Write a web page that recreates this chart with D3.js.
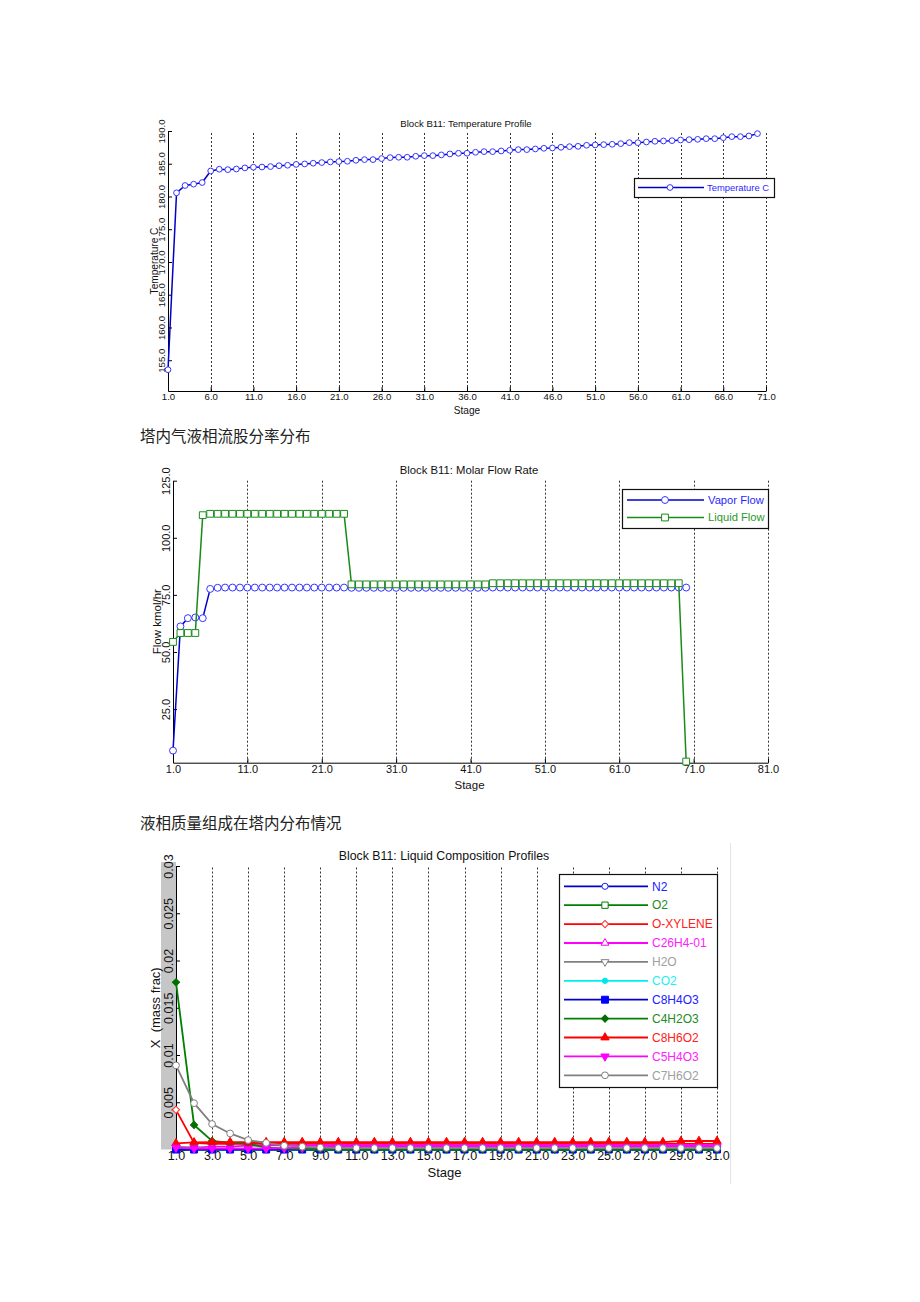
<!DOCTYPE html>
<html>
<head>
<meta charset="utf-8">
<script src="https://cdn.jsdelivr.net/npm/d3@7/dist/d3.min.js"></script>
<style>
body { margin: 0; background: #fff; }
svg text { font-family: "Liberation Sans", Arial, sans-serif; }
svg text.cap { font-family: "Noto Sans CJK SC", sans-serif; }
</style>
</head>
<body>
<div id="page"></div>
<script>
// ---- chart 1: temperature profile, stages 1..70
var temperatureC = [153.55, 180.56, 181.68, 181.88, 182.13, 183.9, 184.16, 184.1, 184.2, 184.37,
    184.47, 184.5, 184.57, 184.7, 184.77, 184.9, 184.97, 185.08, 185.18, 185.28,
    185.33, 185.38, 185.53, 185.63, 185.63, 185.79, 185.94, 185.99, 185.99, 186.14,
    186.24, 186.24, 186.35, 186.5, 186.6, 186.6, 186.75, 186.85, 186.85, 186.95,
    187.06, 187.16, 187.16, 187.26, 187.36, 187.41, 187.51, 187.61, 187.66, 187.82,
    187.87, 187.92, 187.97, 188.07, 188.22, 188.22, 188.32, 188.43, 188.48, 188.53,
    188.63, 188.68, 188.73, 188.83, 188.83, 188.98, 189.14, 189.14, 189.24, 189.6];
var tempXTicks = [1, 6, 11, 16, 21, 26, 31, 36, 41, 46, 51, 56, 61, 66, 71];
var tempYTicks = [155, 160, 165, 170, 175, 180, 185, 190];

// ---- chart 2: molar flow, stages 1..70
var vaporFlow = [6.8, 61.2, 64.8, 65.1, 64.8, 77.6, 78.1, 78.2, 78.2, 78.2,
    78.2, 78.2, 78.2, 78.2, 78.2, 78.2, 78.2, 78.2, 78.2, 78.2,
    78.2, 78.2, 78.2, 78.2, 78.1, 78.1, 78.1, 78.1, 78.1, 78.1,
    78.1, 78.1, 78.1, 78.1, 78.1, 78.1, 78.1, 78.1, 78.1, 78.1,
    78.1, 78.1, 78.1, 78.2, 78.2, 78.2, 78.2, 78.2, 78.2, 78.2,
    78.2, 78.2, 78.2, 78.2, 78.2, 78.2, 78.2, 78.2, 78.2, 78.2,
    78.2, 78.2, 78.2, 78.2, 78.2, 78.2, 78.2, 78.2, 78.2, 78.2];
var liquidFlow = [54.4, 58.3, 58.3, 58.3, 109.9, 110.5, 110.5, 110.5, 110.5, 110.5,
    110.5, 110.5, 110.5, 110.5, 110.5, 110.5, 110.5, 110.5, 110.5, 110.5,
    110.5, 110.5, 110.5, 110.5, 79.6, 79.6, 79.6, 79.6, 79.6, 79.6,
    79.6, 79.6, 79.6, 79.6, 79.6, 79.6, 79.6, 79.6, 79.6, 79.6,
    79.6, 79.6, 79.6, 80.1, 80.1, 80.1, 80.1, 80.1, 80.1, 80.1,
    80.1, 80.1, 80.1, 80.1, 80.1, 80.1, 80.1, 80.1, 80.1, 80.1,
    80.1, 80.1, 80.1, 80.1, 80.1, 80.1, 80.1, 80.1, 80.1, 2.0];
var flowXTicks = [1, 11, 21, 31, 41, 51, 61, 71, 81];
var flowYTicks = [25, 50, 75, 100, 125];

// ---- chart 3: liquid composition (mass frac), stages 1..31
var compNames = ["N2", "O2", "O-XYLENE", "C26H4-01", "H2O", "CO2", "C8H4O3", "C4H2O3", "C8H6O2", "C5H4O3", "C7H6O2"];
var xN2 = [0, 0, 0, 0, 0, 0, 0, 0, 0, 0, 0, 0, 0, 0, 0, 0, 0, 0, 0, 0, 0, 0, 0, 0, 0, 0, 0, 0, 0, 0, 0];
var xO2 = [0, 0, 0, 0, 0, 0, 0, 0, 0, 0, 0, 0, 0, 0, 0, 0, 0, 0, 0, 0, 0, 0, 0, 0, 0, 0, 0, 0, 0, 0, 0];
var xOXylene = [0.0042, 0.0007, 0.0006, 0.0006, 0.0006, 0.0006, 0.0006, 0.0006, 0.0006, 0.0006,
    0.0006, 0.0006, 0.0006, 0.0006, 0.0006, 0.0006, 0.0006, 0.0006, 0.0006, 0.0006,
    0.0006, 0.0006, 0.0006, 0.0006, 0.0006, 0.0006, 0.0006, 0.0006, 0.0006, 0.0006, 0.0006];
var xC26H401 = [0.0002, 0.0002, 0.0003, 0.0003, 0.0004, 0.00045, 0.00045, 0.00045, 0.00045, 0.00045,
    0.00045, 0.00045, 0.00045, 0.00045, 0.00045, 0.00045, 0.00045, 0.00045, 0.00045, 0.00045,
    0.00045, 0.00045, 0.00045, 0.00045, 0.00045, 0.00045, 0.00045, 0.00045, 0.00045, 0.00045, 0.00045];
var xH2O = [0.0003, 0.0002, 0.0001, 0.0001, 0.0001, 0.0001, 0.0001, 0.0001, 0.0001, 0.0001,
    0.0001, 0.0001, 0.0001, 0.0001, 0.0001, 0.0001, 0.0001, 0.0001, 0.0001, 0.0001,
    0.0001, 0.0001, 0.0001, 0.0001, 0.0001, 0.0001, 0.0001, 0.0001, 0.0001, 0.0001, 0.0001];
var xCO2 = [0.0001, 0, 0, 0, 0, 0, 0, 0, 0, 0, 0, 0, 0, 0, 0, 0, 0, 0, 0, 0, 0, 0, 0, 0, 0, 0, 0, 0, 0, 0, 0];
var xC8H4O3 = [0, 0, 0, 0, 0, 0, 0, 0, 0, 0, 0, 0, 0, 0, 0, 0, 0, 0, 0, 0, 0, 0, 0, 0, 0, 0, 0, 0, 0, 0, 0];
var xC4H2O3 = [0.0177, 0.0026, 0.0009, 0.0007, 0.0006, 0.0002, 0.0001, 0.00005, 0, 0,
    0, 0, 0, 0, 0, 0, 0, 0, 0, 0, 0, 0, 0, 0, 0, 0, 0, 0, 0, 0, 0];
var xC8H6O2 = [0.00065, 0.00075, 0.00078, 0.00078, 0.00078, 0.00078, 0.00078, 0.00078, 0.00078, 0.00078,
    0.00078, 0.00078, 0.00078, 0.00078, 0.00078, 0.00078, 0.00078, 0.00078, 0.00078, 0.00078,
    0.00078, 0.00078, 0.00078, 0.00078, 0.00078, 0.00078, 0.00078, 0.00078, 0.0009, 0.0009, 0.0009];
var xC5H4O3 = [0.0002, 0.0001, 0.0001, 0.0001, 0.0001, 0.0001, 0.00015, 0.0002, 0.00025, 0.0003,
    0.0003, 0.0003, 0.0003, 0.0003, 0.0003, 0.0003, 0.0003, 0.0003, 0.0003, 0.0003,
    0.0003, 0.0003, 0.0003, 0.0003, 0.0003, 0.0003, 0.0003, 0.0003, 0.0003, 0.0003, 0.0003];
var xC7H6O2 = [0.0089, 0.0049, 0.0027, 0.0017, 0.0010, 0.0007, 0.0004, 0.0003, 0.0002, 0.00015,
    0.00015, 0.00015, 0.00015, 0.00015, 0.00015, 0.00015, 0.00015, 0.00015, 0.00015, 0.00015,
    0.00015, 0.00015, 0.00015, 0.00015, 0.00015, 0.00015, 0.00015, 0.00015, 0.00015, 0.00015, 0.00015];
var compXTicks = [1, 3, 5, 7, 9, 11, 13, 15, 17, 19, 21, 23, 25, 27, 29, 31];
var compYTicks = [0.005, 0.01, 0.015, 0.02, 0.025, 0.03];
var compYLabels = ["0.005", "0.01", "0.015", "0.02", "0.025", "0.03"];

var svg = d3.select("#page").append("svg")
    .attr("width", 920).attr("height", 1302)
    .style("background", "#fff");

// diamond is a square turned 45 degrees, triDown a triangle turned over
var symbols = {
    circle: d3.symbolCircle, square: d3.symbolSquare, diamond: d3.symbolSquare,
    triUp: d3.symbolTriangle, triDown: d3.symbolTriangle
};
var turns = { diamond: "rotate(45)", triDown: "rotate(180)" };

function marker(sel, m, size) {
    sel.append("path")
        .attr("d", d3.symbol().type(symbols[m.shape]).size(size)())
        .attr("transform", turns[m.shape] || null)
        .attr("fill", m.filled ? m.mcolor : "#fff")
        .attr("stroke", m.mcolor)
        .attr("stroke-width", 1);
}

function drawChart(cfg) {
    var g = svg.append("g");
    var x = d3.scaleLinear().domain(cfg.xDomain).range(cfg.xRange);
    var y = d3.scaleLinear().domain(cfg.yDomain).range(cfg.yRange);

    if (cfg.ylabBand) {
        g.append("rect")
            .attr("x", cfg.xRange[0] - 15).attr("y", cfg.yRange[1] - 4)
            .attr("width", 15).attr("height", cfg.yRange[0] - cfg.yRange[1] + 4)
            .attr("fill", "#c6c6c6");
    }

    // dashed vertical grid
    g.selectAll("line.grid").data(cfg.xTicks.slice(1)).enter().append("line")
        .attr("class", "grid")
        .attr("x1", function(d) { return Math.round(x(d)) + 0.5; })
        .attr("x2", function(d) { return Math.round(x(d)) + 0.5; })
        .attr("y1", cfg.yRange[0]).attr("y2", cfg.yRange[1])
        .attr("stroke", "#000").attr("stroke-width", 0.8)
        .attr("stroke-dasharray", "2,2");

    var xa = g.append("g")
        .attr("transform", "translate(0," + cfg.yRange[0] + ")")
        .call(d3.axisBottom(x).tickValues(cfg.xTicks).tickFormat(d3.format(".1f"))
            .tickSize(-4).tickSizeOuter(0).tickPadding(2));
    xa.attr("font-size", cfg.tickFs).attr("font-family", null);
    xa.selectAll("text").attr("fill", "#111");

    var ya = g.append("g")
        .attr("transform", "translate(" + cfg.xRange[0] + ",0)")
        .call(d3.axisLeft(y).tickValues(cfg.yTicks)
            .tickFormat(function(d, i) { return cfg.yLabels ? cfg.yLabels[i] : d3.format(".1f")(d); })
            .tickSize(-4).tickSizeOuter(0));
    ya.attr("font-size", cfg.tickFs).attr("font-family", null);
    ya.selectAll("text")
        .attr("x", null).attr("dy", null)
        .attr("text-anchor", "middle")
        .attr("fill", "#111")
        .attr("transform", "translate(-3,0) rotate(-90)");

    // titles
    g.append("text")
        .attr("x", cfg.titleX).attr("y", cfg.titleY)
        .attr("text-anchor", "middle").attr("font-size", cfg.titleFs).attr("fill", "#111")
        .text(cfg.title);
    g.append("text")
        .attr("x", (cfg.xRange[0] + cfg.xRange[1]) / 2 + cfg.stageDx).attr("y", cfg.stageY)
        .attr("text-anchor", "middle").attr("font-size", cfg.tickFs + 0.5).attr("fill", "#111")
        .text("Stage");
    g.append("text")
        .attr("transform", "translate(" + cfg.ylabX + "," + (cfg.yRange[0] + cfg.yRange[1]) / 2 + ") rotate(-90)")
        .attr("text-anchor", "middle").attr("font-size", cfg.tickFs + 0.5).attr("fill", "#111")
        .attr("xml:space", "preserve")
        .text(cfg.ylabel);

    // series
    cfg.series.forEach(function(s) {
        var line = d3.line()
            .x(function(d, i) { return x(i + 1); })
            .y(function(d) { return y(d); });
        g.append("path")
            .datum(s.values)
            .attr("fill", "none")
            .attr("stroke", s.color)
            .attr("stroke-width", cfg.lw)
            .attr("d", line);
        var pts = g.selectAll(null).data(s.values).enter().append("g")
            .attr("transform", function(d, i) { return "translate(" + x(i + 1) + "," + y(d) + ")"; });
        marker(pts, s, s.size || cfg.msize);
    });

    // legend
    var L = cfg.legend;
    var lg = g.append("g");
    lg.append("rect")
        .attr("x", L.x + 0.5).attr("y", L.y + 0.5).attr("width", L.w).attr("height", L.h)
        .attr("fill", "#fff").attr("stroke", "#111").attr("stroke-width", 1.2);
    cfg.series.forEach(function(s, i) {
        var yy = L.y0 + i * L.dy;
        lg.append("line")
            .attr("x1", L.lx1).attr("x2", L.lx2).attr("y1", yy).attr("y2", yy)
            .attr("stroke", s.color).attr("stroke-width", cfg.lw);
        var m = lg.append("g").attr("transform", "translate(" + L.mx + "," + yy + ")");
        marker(m, s, s.size || cfg.msize);
        lg.append("text")
            .attr("x", L.tx).attr("y", yy).attr("dy", "0.35em")
            .attr("font-size", L.fs).attr("fill", s.tcolor || s.color)
            .text(s.name);
    });
}

// chart 1
drawChart({
    xDomain: [1, 71], xRange: [168, 766],
    yDomain: [150.3, 190], yRange: [391, 131],
    xTicks: tempXTicks, yTicks: tempYTicks,
    tickFs: 9.6, titleFs: 9.6, title: "Block B11: Temperature Profile",
    titleX: 466, titleY: 127, stageY: 414, stageDx: 0,
    ylabel: "Temperature C", ylabX: 158,
    lw: 1.5, msize: 26,
    series: [{ name: "Temperature C", values: temperatureC, color: "#0000c8", mcolor: "#3535ff",
        tcolor: "#2828ff", shape: "circle", filled: false }],
    legend: { x: 634, y: 178, w: 140, h: 19, y0: 187.5, dy: 0, lx1: 638, lx2: 704, mx: 670, tx: 707, fs: 9.4 }
});

// chart 2
drawChart({
    xDomain: [1, 81], xRange: [173, 768],
    yDomain: [1.5, 125], yRange: [762.7, 480.7],
    xTicks: flowXTicks, yTicks: flowYTicks,
    tickFs: 11, titleFs: 11.3, title: "Block B11: Molar Flow Rate",
    titleX: 469, titleY: 474, stageY: 789, stageDx: -1,
    ylabel: "Flow kmol/hr", ylabX: 161,
    lw: 1.5, msize: 38,
    series: [
        { name: "Vapor Flow", values: vaporFlow, color: "#0000c8", mcolor: "#3535ff", tcolor: "#2828ff",
            shape: "circle", filled: false },
        { name: "Liquid Flow", values: liquidFlow, color: "#1a8a1a", mcolor: "#1a8a1a", tcolor: "#2a9a2a",
            shape: "square", filled: false, size: 46 }
    ],
    legend: { x: 622, y: 489, w: 146, h: 39, y0: 500, dy: 17.5, lx1: 627, lx2: 704, mx: 665, tx: 708, fs: 11.2 }
});

// chart 3
var compColors = ["#0000d0", "#008000", "#ff0000", "#ff00ff", "#808080", "#00f0f0", "#0000d0", "#008000", "#ff0000", "#ff00ff", "#808080"];
var compMarkerColors = ["#2020ff", "#008000", "#ff3030", "#ff00ff", "#808080", "#00e8e8", "#0000ff", "#006e00", "#ff0000", "#ff00ff", "#808080"];
var compShapes = ["circle", "square", "diamond", "triUp", "triDown", "circle", "square", "diamond", "triUp", "triDown", "circle"];
var compFilled = [false, false, false, false, false, true, true, true, true, true, false];
var compSizes = [30, 40, 26, 26, 26, 22, 48, 26, 30, 30, 36];
var compTextColors = ["#2020ff", "#1e8c1e", "#ff2020", "#ff20ff", "#a0a0a0", "#20f0f0", "#2020ff", "#1e8c1e", "#ff2020", "#ff20ff", "#a0a0a0"];
var compValues = [xN2, xO2, xOXylene, xC26H401, xH2O, xCO2, xC8H4O3, xC4H2O3, xC8H6O2, xC5H4O3, xC7H6O2];

drawChart({
    xDomain: [1, 31], xRange: [176, 717],
    yDomain: [0, 0.03], yRange: [1149.5, 866],
    xTicks: compXTicks, yTicks: compYTicks, yLabels: compYLabels, ylabBand: true,
    tickFs: 12.5, titleFs: 12.3, title: "Block B11: Liquid Composition Profiles",
    titleX: 444, titleY: 860, stageY: 1177, stageDx: -2,
    ylabel: "X  (mass frac)", ylabX: 160,
    lw: 1.8, msize: 30,
    series: compNames.map(function(n, i) {
        return { name: n, values: compValues[i], color: compColors[i], mcolor: compMarkerColors[i],
            tcolor: compTextColors[i], shape: compShapes[i], filled: compFilled[i], size: compSizes[i] };
    }),
    legend: { x: 559, y: 874, w: 158, h: 213, y0: 886.3, dy: 18.9, lx1: 564, lx2: 648, mx: 605, tx: 652, fs: 12 }
});

// faint edge of the pasted plot image
svg.append("line")
    .attr("x1", 730.5).attr("x2", 730.5).attr("y1", 843).attr("y2", 1184)
    .attr("stroke", "#e4e4e4").attr("stroke-width", 1);

// captions
svg.append("text").attr("class", "cap")
    .attr("x", 140).attr("y", 442).attr("font-size", 15.5).attr("fill", "#222")
    .text("塔内气液相流股分率分布");
svg.append("text").attr("class", "cap")
    .attr("x", 140).attr("y", 829).attr("font-size", 15.5).attr("fill", "#222")
    .text("液相质量组成在塔内分布情况");
</script>
</body>
</html>
